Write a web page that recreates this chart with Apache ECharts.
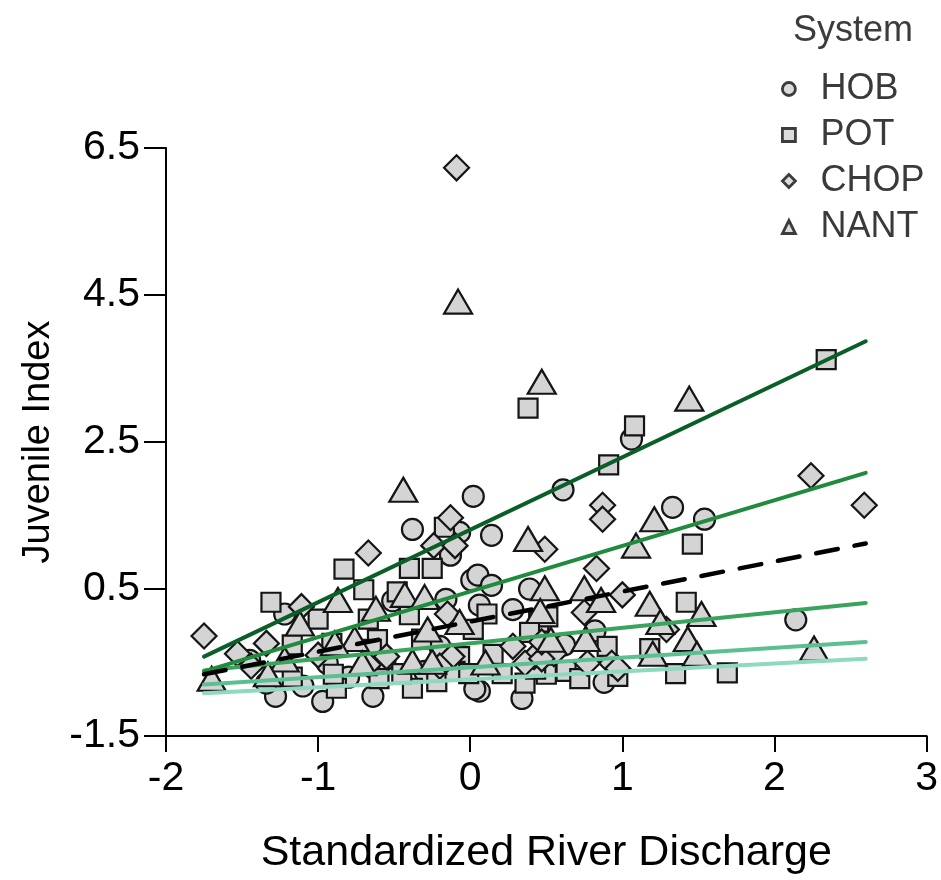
<!DOCTYPE html>
<html>
<head>
<meta charset="utf-8">
<script src="https://cdn.jsdelivr.net/npm/echarts@6/dist/echarts.min.js"></script>
<style>
  html, body { margin: 0; padding: 0; background: #fff; }
  #chart { width: 941px; height: 880px; }
</style>
</head>
<body>
<div id="chart"></div>
<script>
// Juvenile index vs. standardized river discharge, by river system
const systems = ['HOB', 'POT', 'CHOP', 'NANT'];
const symbols = ['circle', 'rect', 'diamond', 'triangle'];

const hob = [
  [1.06, 2.54], [0.02, 1.76], [0.61, 1.85], [1.33, 1.61], [1.54, 1.45], [2.14, 0.08],
  [-0.38, 1.31], [-0.07, 1.27], [0.14, 1.23], [-0.13, 0.96], [-1.22, 0.16], [0.01, 0.62],
  [0.05, 0.69], [0.14, 0.55], [0.39, 0.50], [-0.51, 0.34], [-0.16, 0.36], [0.06, 0.28],
  [0.28, 0.22], [-0.94, -0.51], [-1.28, -0.96], [-0.97, -1.03], [-0.64, -0.96], [0.06, -0.89],
  [0.34, -0.99], [0.88, -0.77], [0.82, -0.07], [-0.56, -0.46], [-1.34, -0.78], [-1.10, -0.82],
  [0.03, -0.86], [-0.20, -0.28], [-1.45, -0.47], [0.62, -0.26], [-0.80, -0.70], [-0.30, -0.62]
];
const pot = [
  [2.34, 3.62], [0.38, 2.96], [1.08, 2.72], [0.91, 2.19], [1.46, 1.11], [1.69, -0.64],
  [-0.17, 1.34], [-0.83, 0.77], [-0.40, 0.78], [-0.25, 0.78], [-1.31, 0.32], [-0.70, 0.49],
  [-1.00, 0.09], [-0.67, 0.09], [-0.40, 0.15], [0.11, 0.16], [0.45, 0.05], [0.51, 0.12],
  [1.42, 0.32], [0.02, -0.05], [0.39, -0.09], [-0.32, -0.18], [-0.61, -0.19], [-0.65, -0.32],
  [-1.17, -0.26], [0.90, -0.28], [1.18, -0.31], [0.15, -0.39], [-0.07, -0.42], [-0.38, -0.85],
  [-0.22, -0.76], [-1.17, -0.70], [-0.88, -0.85], [-0.90, -0.66], [-0.45, -0.65], [-0.10, -0.62],
  [-0.01, -0.65], [0.36, -0.78], [0.50, -0.66], [0.63, -0.62], [1.35, -0.65], [0.97, -0.69],
  [0.21, -0.65], [0.43, -0.59], [-0.48, 0.46], [-0.91, -0.24], [-0.60, -0.72], [0.72, -0.72]
];
const chop = [
  [-0.09, 6.23], [2.24, 2.04], [2.59, 1.64], [0.87, 1.64], [0.87, 1.45], [-0.13, 1.47],
  [-0.24, 1.09], [-0.10, 1.09], [0.49, 1.04], [-0.67, 0.99], [0.83, 0.78], [1.00, 0.42],
  [0.75, 0.18], [-0.15, 0.16], [-1.75, -0.14], [-1.11, 0.26], [1.29, -0.05], [-1.53, -0.38],
  [-1.34, -0.24], [-1.44, -0.55], [-0.55, -0.42], [-0.12, -0.42], [0.28, -0.28], [0.42, -0.42],
  [0.55, -0.38], [0.36, -0.51], [0.47, -0.45], [0.93, -0.51], [0.77, -0.51], [0.47, -0.22],
  [-0.67, -0.53], [0.97, -0.58], [-1.00, -0.40], [-0.20, -0.55]
];
const nant = [
  [-0.08, 4.41], [0.47, 3.32], [1.44, 3.09], [-0.44, 1.85], [1.21, 1.45], [1.09, 1.09],
  [2.26, -0.31], [0.38, 1.18], [-0.87, 0.35], [-1.12, 0.03], [-0.76, -0.18], [-0.62, 0.23],
  [-0.43, 0.42], [-0.30, 0.39], [0.49, 0.51], [0.75, 0.51], [0.86, 0.35], [1.18, 0.30],
  [1.52, 0.16], [0.46, 0.20], [1.25, 0.05], [1.43, -0.18], [0.76, -0.18], [0.53, -0.19],
  [-0.07, 0.05], [-0.28, -0.05], [1.20, -0.38], [1.49, -0.38], [-1.22, -0.46], [-0.71, -0.51],
  [-0.38, -0.49], [-0.25, -0.49], [-1.70, -0.72], [-1.33, -0.66], [-0.89, -0.24], [0.10, -0.50]
];

// Fitted lines: start/end x shared, y at each end
const fitX = [-1.75, 2.6];
const fitDark = [-0.42, 3.87];
const fitMid = [-0.62, 2.08];
const fitMean = [-0.66, 1.12];
const fitLight1 = [-0.61, 0.31];
const fitLight2 = [-0.80, -0.22];
const fitLight3 = [-0.92, -0.45];

const yTicks = [-1.5, 0.5, 2.5, 4.5, 6.5];
const xTicks = [-2, -1, 0, 1, 2, 3];

const FONT = 'Liberation Sans, Arial, Helvetica, sans-serif';
const pointSets = [hob, pot, chop, nant];
const symbolSizes = [21, 19, [25, 25], [28, 24]];

const scatterSeries = systems.map((name, i) => ({
  name: name,
  type: 'scatter',
  symbol: symbols[i],
  symbolSize: symbolSizes[i],
  data: pointSets[i],
  itemStyle: { color: '#d4d4d4', borderColor: '#151515', borderWidth: 2.2, opacity: 1 },
  z: 2
}));

function fitSeries(ys, color, dashed) {
  return {
    type: 'line',
    data: fitX.map((x, k) => [x, ys[k]]),
    symbol: 'none',
    silent: true,
    lineStyle: dashed
      ? { color: '#000', width: 4.5, type: [22, 17], cap: 'round' }
      : { color: color, width: 4, cap: 'round' },
    z: 5
  };
}

const chart = echarts.init(document.getElementById('chart'), null, { renderer: 'canvas' });
chart.setOption({
  animation: false,
  backgroundColor: '#fff',
  title: {
    text: 'System',
    left: 848, top: 8,
    textAlign: 'center',
    textStyle: { fontFamily: FONT, fontSize: 36, fontWeight: 'normal', color: '#3c3c3c' }
  },
  legend: {
    data: systems,
    orient: 'vertical',
    left: 776, top: 66,
    itemWidth: 13, itemHeight: 13,
    itemGap: 10,
    itemStyle: { color: '#dcdcdc', borderColor: '#3c3c3c', borderWidth: 2.8 },
    textStyle: { fontFamily: FONT, fontSize: 36, color: '#3a3a3a', padding: [0, 0, 0, 20] }
  },
  grid: { left: 166, right: 13, top: 148, bottom: 140, containLabel: false },
  xAxis: {
    type: 'value',
    min: xTicks[0], max: xTicks[xTicks.length - 1], interval: 1,
    name: 'Standardized River Discharge',
    nameLocation: 'middle', nameGap: 96,
    nameTextStyle: { fontFamily: FONT, fontSize: 43, color: '#000' },
    axisLine: { onZero: false, lineStyle: { color: '#000', width: 2 } },
    axisTick: { show: true, length: 16, lineStyle: { color: '#000', width: 2 } },
    axisLabel: { fontFamily: FONT, fontSize: 41, color: '#000', margin: 22 },
    splitLine: { show: false }
  },
  yAxis: {
    type: 'value',
    min: yTicks[0], max: yTicks[yTicks.length - 1], interval: 2,
    name: 'Juvenile Index',
    nameLocation: 'middle', nameGap: 108,
    nameTextStyle: { fontFamily: FONT, fontSize: 38, color: '#000' },
    axisLine: { onZero: false, lineStyle: { color: '#000', width: 2 } },
    axisTick: { show: true, length: 22, lineStyle: { color: '#000', width: 2 } },
    axisLabel: { fontFamily: FONT, fontSize: 41, color: '#000', margin: 26 },
    splitLine: { show: false }
  },
  series: scatterSeries.concat([
    fitSeries(fitLight3, '#8fd9c0', false),
    fitSeries(fitLight2, '#5cbf92', false),
    fitSeries(fitLight1, '#3aa45e', false),
    fitSeries(fitMid, '#1f8b3d', false),
    fitSeries(fitDark, '#0a5f28', false),
    fitSeries(fitMean, '#000', true)
  ])
});
</script>
</body>
</html>
